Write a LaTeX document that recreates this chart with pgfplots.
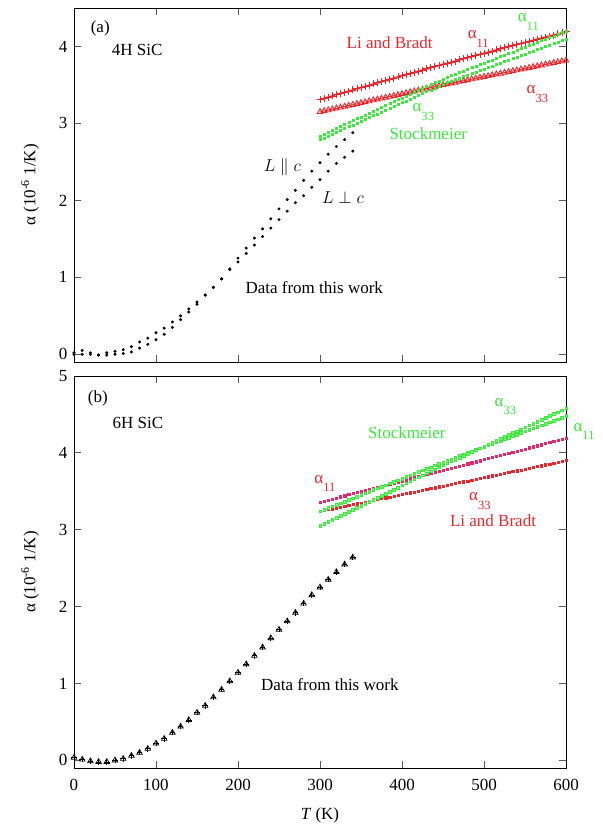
\documentclass[border=0pt]{standalone}
\usepackage{fontspec}
\setmainfont{Liberation Serif}
\usepackage{pgfplots}
\usepackage{pgfplotstable}
\pgfplotsset{compat=1.18}
\definecolor{LiRed}{HTML}{E8262C}
\definecolor{Rose}{HTML}{E3286E}
\definecolor{Lime}{HTML}{3CE83C}
\newcommand\lab{\fontsize{17}{19}\selectfont}
\newcommand\asub[1]{α\raisebox{-0.5em}{\fontsize{12.5}{13}\selectfont #1}}

% low-T data, 4H (two orientations)
\pgfplotstableread{
T par perp
0 0.02 0.00
10 0.05 0.00
20 0.02 0.00
30 -0.01 -0.01
40 0.02 -0.01
50 0.04 0.00
60 0.06 0.01
70 0.10 0.03
80 0.16 0.08
90 0.21 0.13
100 0.28 0.19
110 0.34 0.26
120 0.42 0.35
130 0.50 0.45
140 0.59 0.55
150 0.68 0.65
160 0.77 0.77
170 0.87 0.87
180 0.98 0.98
190 1.11 1.10
200 1.25 1.20
210 1.38 1.31
220 1.51 1.42
230 1.63 1.53
240 1.76 1.64
250 1.89 1.75
260 2.01 1.86
270 2.13 1.97
280 2.26 2.06
290 2.38 2.17
300 2.49 2.27
310 2.60 2.38
320 2.70 2.48
330 2.79 2.56
340 2.88 2.64
}\fourH

% low-T data, 6H
\pgfplotstableread{
T a
0 0.035
10 0.01
20 -0.01
30 -0.02
40 -0.02
50 0.00
60 0.02
70 0.06
80 0.10
90 0.15
100 0.22
110 0.28
120 0.36
130 0.44
140 0.525
150 0.62
160 0.71
170 0.82
180 0.92
190 1.03
200 1.14
210 1.25
220 1.36
230 1.47
240 1.59
250 1.70
260 1.81
270 1.92
280 2.04
290 2.15
300 2.25
310 2.35
320 2.45
330 2.55
340 2.64
}\sixH

% literature curves, 4H: Li and Bradt (L11, L33), Stockmeier (S11, S33)
\pgfplotstableread{
T L11 L33 S11 S33
300 3.310 3.150 2.840 2.790
305 3.326 3.162 2.865 2.814
310 3.342 3.173 2.889 2.838
315 3.357 3.185 2.914 2.862
320 3.373 3.197 2.939 2.886
325 3.389 3.208 2.963 2.910
330 3.404 3.220 2.988 2.934
335 3.420 3.232 3.013 2.958
340 3.435 3.243 3.037 2.982
345 3.451 3.255 3.062 3.006
350 3.466 3.267 3.087 3.030
355 3.482 3.278 3.111 3.054
360 3.497 3.290 3.136 3.078
365 3.513 3.302 3.161 3.102
370 3.528 3.313 3.185 3.126
375 3.543 3.325 3.210 3.150
380 3.558 3.337 3.235 3.174
385 3.574 3.348 3.259 3.198
390 3.589 3.360 3.284 3.222
395 3.604 3.372 3.309 3.246
400 3.619 3.383 3.333 3.270
405 3.634 3.395 3.358 3.294
410 3.649 3.407 3.383 3.318
415 3.664 3.418 3.407 3.342
420 3.679 3.430 3.432 3.366
425 3.694 3.442 3.457 3.390
430 3.709 3.453 3.481 3.414
435 3.723 3.465 3.506 3.438
440 3.738 3.477 3.531 3.462
445 3.753 3.488 3.555 3.486
450 3.768 3.500 3.580 3.510
455 3.782 3.511 3.601 3.530
460 3.797 3.521 3.621 3.549
465 3.811 3.532 3.642 3.569
470 3.826 3.543 3.663 3.589
475 3.840 3.553 3.683 3.608
480 3.855 3.564 3.704 3.628
485 3.869 3.575 3.725 3.648
490 3.884 3.585 3.745 3.667
495 3.898 3.596 3.766 3.687
500 3.912 3.607 3.787 3.707
505 3.926 3.617 3.807 3.726
510 3.941 3.628 3.828 3.746
515 3.955 3.639 3.849 3.766
520 3.969 3.649 3.869 3.785
525 3.983 3.660 3.890 3.805
530 3.997 3.671 3.911 3.825
535 4.011 3.681 3.931 3.844
540 4.025 3.692 3.952 3.864
545 4.039 3.703 3.973 3.884
550 4.053 3.713 3.993 3.903
555 4.067 3.724 4.014 3.923
560 4.081 3.735 4.035 3.943
565 4.095 3.745 4.055 3.962
570 4.108 3.756 4.076 3.982
575 4.122 3.767 4.097 4.002
580 4.136 3.777 4.117 4.021
585 4.149 3.788 4.138 4.041
590 4.163 3.799 4.159 4.061
595 4.176 3.809 4.179 4.080
600 4.190 3.820 4.200 4.100
}\litA

% literature curves, 6H
\pgfplotstableread{
T R11 R33 G11 G33
300 3.360 3.240 3.240 3.050
305 3.374 3.251 3.261 3.076
310 3.388 3.262 3.283 3.103
315 3.402 3.273 3.304 3.129
320 3.415 3.284 3.325 3.155
325 3.429 3.295 3.347 3.182
330 3.443 3.306 3.368 3.208
335 3.457 3.317 3.389 3.234
340 3.471 3.328 3.411 3.261
345 3.485 3.339 3.432 3.287
350 3.498 3.350 3.453 3.313
355 3.512 3.361 3.475 3.340
360 3.526 3.372 3.496 3.366
365 3.540 3.383 3.517 3.392
370 3.554 3.394 3.539 3.419
375 3.568 3.405 3.560 3.445
380 3.581 3.416 3.581 3.471
385 3.595 3.427 3.603 3.498
390 3.609 3.438 3.624 3.524
395 3.623 3.449 3.645 3.550
400 3.637 3.460 3.667 3.577
405 3.650 3.471 3.688 3.603
410 3.664 3.482 3.709 3.629
415 3.678 3.493 3.731 3.656
420 3.692 3.504 3.752 3.682
425 3.706 3.515 3.773 3.708
430 3.720 3.526 3.795 3.735
435 3.733 3.537 3.816 3.761
440 3.747 3.548 3.837 3.787
445 3.761 3.559 3.859 3.814
450 3.775 3.570 3.880 3.840
455 3.789 3.581 3.900 3.865
460 3.803 3.592 3.920 3.889
465 3.816 3.603 3.940 3.914
470 3.830 3.614 3.960 3.939
475 3.844 3.625 3.980 3.963
480 3.858 3.636 4.000 3.988
485 3.872 3.647 4.020 4.013
490 3.886 3.658 4.040 4.037
495 3.899 3.669 4.060 4.062
500 3.913 3.680 4.080 4.087
505 3.927 3.691 4.100 4.111
510 3.941 3.702 4.120 4.136
515 3.955 3.713 4.140 4.161
520 3.969 3.724 4.160 4.185
525 3.982 3.735 4.180 4.210
530 3.996 3.746 4.200 4.235
535 4.010 3.757 4.220 4.259
540 4.024 3.768 4.240 4.284
545 4.038 3.779 4.260 4.309
550 4.052 3.790 4.280 4.333
555 4.066 3.801 4.300 4.358
560 4.079 3.812 4.320 4.383
565 4.093 3.823 4.340 4.407
570 4.107 3.834 4.360 4.432
575 4.121 3.845 4.380 4.457
580 4.135 3.856 4.400 4.481
585 4.149 3.867 4.420 4.506
590 4.162 3.878 4.440 4.531
595 4.176 3.889 4.460 4.555
600 4.190 3.900 4.480 4.580
}\litB

\pgfplotsset{
  panel/.style={
    width=492pt, scale only axis, clip=false,
    xmin=0, xmax=600, xtick={0,100,...,600},
    tick align=inside, major tick length=7pt,
    tick style={black!65, line width=0.8pt},
    axis line style={line width=0.9pt},
    tick label style={font=\lab},
    /pgf/number format/assume math mode=true,
    yticklabel style={xshift=-3pt},
    xticklabel style={yshift=-8pt},
    ylabel={α (10\textsuperscript{-6} 1/K)},
    ylabel style={font=\lab, at={(axis description cs:-0.0894,0.5)}, anchor=center},
    xlabel style={font=\lab, at={(axis description cs:0.5,-0.12)}, anchor=center},
  }
}

\begin{document}
\begin{tikzpicture}
\useasboundingbox (-74pt,-58pt) rectangle (528pt,768pt);

\begin{axis}[panel, at={(0pt,406pt)}, anchor=south west, height=354pt,
  ymin=-0.1, ymax=4.5, ytick={0,1,2,3,4}, xticklabel style={opacity=0}]
\addplot[only marks, mark=*, mark size=1.3pt, black] table[x=T, y=par] {\fourH};
\addplot[only marks, mark=*, mark size=1.3pt, black] table[x=T, y=perp] {\fourH};
\addplot[LiRed!45, line width=2.2pt] table[x=T, y=L11] {\litA};
\addplot[LiRed, line width=0.8pt, mark=+, mark size=3.5pt] table[x=T, y=L11] {\litA};
\addplot[LiRed, line width=0.9pt, mark=triangle, mark size=3.2pt] table[x=T, y=L33] {\litA};
\addplot[only marks, mark=square*, mark size=1pt, Lime, mark options={fill=Lime}] table[x=T, y=S11] {\litA};
\addplot[only marks, mark=square*, mark size=1pt, Lime, mark options={fill=Lime}] table[x=T, y=S33] {\litA};
\node[font=\lab] at (axis cs:32,4.23) {(a)};
\node[font=\lab] at (axis cs:77,3.95) {4H SiC};
\node[font=\lab] at (axis cs:254,2.43) {$L\parallel c$};
\node[font=\lab] at (axis cs:328,2.04) {$L\perp c$};
\node[font=\lab] at (axis cs:293,0.87) {Data from this work};
\node[font=\lab, text=LiRed] at (axis cs:385,4.05) {Li and Bradt};
\node[font=\lab, text=LiRed] at (axis cs:493,4.10) {\asub{11}};
\node[font=\lab, text=Lime] at (axis cs:554,4.32) {\asub{11}};
\node[font=\lab, text=LiRed] at (axis cs:565,3.38) {\asub{33}};
\node[font=\lab, text=Lime] at (axis cs:426,3.15) {\asub{33}};
\node[font=\lab, text=Lime] at (axis cs:432,2.87) {Stockmeier};
\end{axis}

\begin{axis}[panel, at={(0pt,0pt)}, anchor=south west, height=392pt,
  ymin=-0.1, ymax=5, ytick={0,1,2,3,4,5}, xlabel={\textit{T} (K)}]
\addplot[only marks, mark=triangle, mark size=3.2pt, black, line width=0.7pt] table[x=T, y=a] {\sixH};
\addplot[only marks, mark=+, mark size=2.8pt, black, line width=0.7pt] table[x=T, y=a] {\sixH};
\addplot[only marks, mark=square*, mark size=1.1pt, Rose] table[x=T, y=R11] {\litB};
\addplot[only marks, mark=square*, mark size=1.1pt, LiRed] table[x=T, y=R33] {\litB};
\addplot[only marks, mark=square*, mark size=1.3pt, Lime, mark options={draw=Lime, fill=Lime!65!white}] table[x=T, y=G11] {\litB};
\addplot[only marks, mark=square*, mark size=1.3pt, Lime, mark options={draw=Lime, fill=Lime!65!white}] table[x=T, y=G33] {\litB};
\node[font=\lab] at (axis cs:29,4.71) {(b)};
\node[font=\lab] at (axis cs:78,4.39) {6H SiC};
\node[font=\lab] at (axis cs:312,0.98) {Data from this work};
\node[font=\lab, text=Lime] at (axis cs:406,4.26) {Stockmeier};
\node[font=\lab, text=Lime] at (axis cs:526,4.60) {\asub{33}};
\node[font=\lab, text=Lime] at (axis cs:622,4.28) {\asub{11}};
\node[font=\lab, text=LiRed] at (axis cs:306,3.60) {\asub{11}};
\node[font=\lab, text=LiRed] at (axis cs:495,3.37) {\asub{33}};
\node[font=\lab, text=LiRed] at (axis cs:511,3.12) {Li and Bradt};
\end{axis}
\end{tikzpicture}
\end{document}
